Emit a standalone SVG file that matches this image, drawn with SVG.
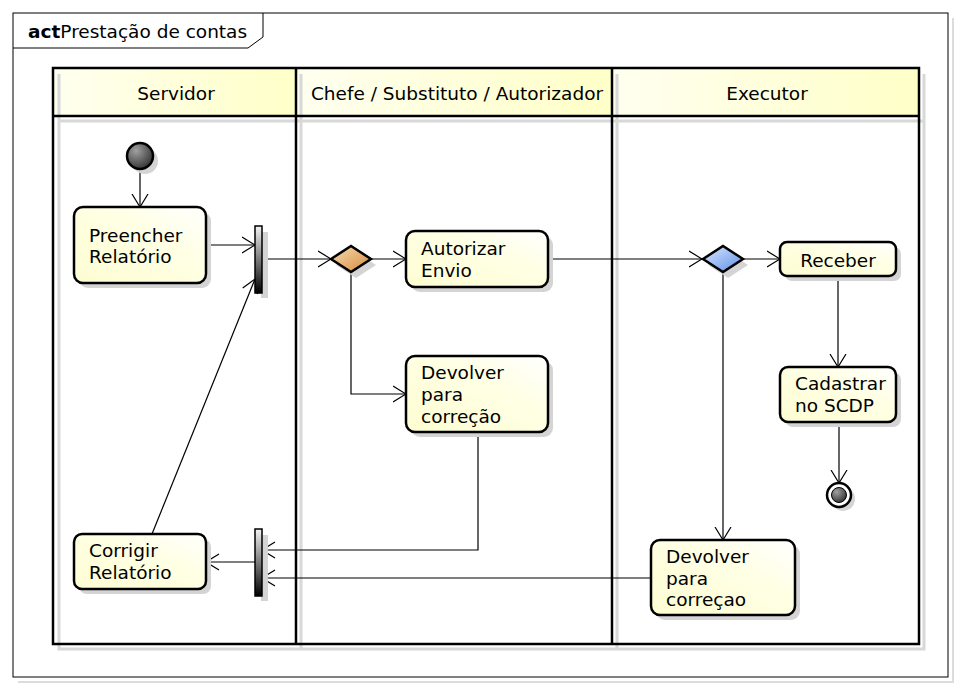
<svg xmlns="http://www.w3.org/2000/svg" width="962" height="690" viewBox="0 0 962 690">
<style>
text{font-family:"DejaVu Sans","Liberation Sans",sans-serif;font-size:18.5px;fill:#000}
.node{stroke:#000;stroke-width:2.5;fill:url(#ny)}
.sh{fill:#d4d4d4}
.ln{fill:none;stroke:#000;stroke-width:1.2}
.lane{fill:none;stroke:#000;stroke-width:2.5}
.lsh{fill:none;stroke:#d8d8d8;stroke-width:3}
.bar{fill:url(#bg);stroke:#000;stroke-width:1.5}
.hd{fill:url(#hy)}
</style>
<defs>
<linearGradient id="ny" x1="0" y1="1" x2="1" y2="0"><stop offset="0" stop-color="#fdfdd2"/><stop offset="0.6" stop-color="#ffffe4"/><stop offset="1" stop-color="#ffffff"/></linearGradient>
<linearGradient id="hy" x1="0" y1="0" x2="1" y2="0"><stop offset="0" stop-color="#fffff0"/><stop offset="1" stop-color="#ffffc8"/></linearGradient>
<linearGradient id="bg" x1="0" y1="0" x2="0" y2="1"><stop offset="0" stop-color="#f4f4f4"/><stop offset="1" stop-color="#000"/></linearGradient>
<linearGradient id="og" x1="0" y1="0" x2="1" y2="1"><stop offset="0" stop-color="#f8dcb4"/><stop offset="1" stop-color="#d48a3c"/></linearGradient>
<linearGradient id="bl" x1="0" y1="0" x2="1" y2="1"><stop offset="0" stop-color="#dde9ff"/><stop offset="1" stop-color="#5a8ee8"/></linearGradient>
<radialGradient id="ig" cx="0.35" cy="0.3" r="0.8"><stop offset="0" stop-color="#a0a0a0"/><stop offset="1" stop-color="#2a2a2a"/></radialGradient>
<marker id="ah" viewBox="0 0 14 18" refX="13.5" refY="9" markerWidth="14" markerHeight="18" markerUnits="userSpaceOnUse" orient="auto"><path d="M0.5,1 L13.5,9 L0.5,17" fill="none" stroke="#000" stroke-width="1.2"/></marker>
</defs>
<rect width="962" height="690" fill="#fff"/>
<g id="frame">
<path d="M953,18 V682 H18" fill="none" stroke="#dcdcdc" stroke-width="2"/>
<rect x="13" y="13" width="935" height="664" fill="none" stroke="#000" stroke-width="1"/>
<path d="M13,48 H248 L263,37 V13" fill="none" stroke="#000" stroke-width="1"/>
<text x="28" y="38"><tspan font-weight="bold">act</tspan>Prestação de contas</text>
</g>
<g id="lanes">
<rect class="hd" x="53" y="68" width="243" height="48"/>
<rect class="hd" x="296" y="68" width="316" height="48"/>
<rect class="hd" x="612" y="68" width="307" height="48"/>
<path class="lsh" d="M59,74 V649 H924 V74 M301,74 V649 M617,74 V649 M59,121 H924"/>
<rect class="lane" x="53" y="68" width="866" height="576"/>
<path class="lane" d="M53,116 H919 M296,68 V644 M612,68 V644"/>
<text x="176" y="100" text-anchor="middle">Servidor</text>
<text x="457" y="100" text-anchor="middle">Chefe / Substituto / Autorizador</text>
<text x="767" y="100" text-anchor="middle">Executor</text>
</g>
<g id="connectors">
<path class="ln" marker-end="url(#ah)" d="M140,169 V207"/>
<path class="ln" marker-end="url(#ah)" d="M206,245 H255"/>
<path class="ln" marker-end="url(#ah)" d="M262,259 H331"/>
<path class="ln" marker-end="url(#ah)" d="M371,259 H406"/>
<path class="ln" marker-end="url(#ah)" d="M351,272 V394 H406"/>
<path class="ln" marker-end="url(#ah)" d="M548,259 H702"/>
<path class="ln" marker-end="url(#ah)" d="M743,259 H780"/>
<path class="ln" marker-end="url(#ah)" d="M838,276 V367"/>
<path class="ln" marker-end="url(#ah)" d="M839,422 V483"/>
<path class="ln" marker-end="url(#ah)" d="M723,273 V540"/>
<path class="ln" marker-end="url(#ah)" d="M478,432 V550 H262"/>
<path class="ln" marker-end="url(#ah)" d="M651,578 H262"/>
<path class="ln" marker-end="url(#ah)" d="M255,562 H206"/>
<path class="ln" marker-end="url(#ah)" d="M152,534 L255,279"/>
</g>
<g id="initial">
<circle cx="145" cy="161" r="13" class="sh"/>
<circle cx="140" cy="156" r="13" fill="url(#ig)" stroke="#000" stroke-width="2.5"/>
</g>
<g id="preencher">
<rect class="sh" x="79" y="212" width="132" height="76" rx="9"/>
<rect class="node" x="74" y="207" width="132" height="76" rx="9"/>
<text x="89" y="242">Preencher</text>
<text x="89" y="263">Relatório</text>
</g>
<g id="fork1">
<rect class="sh" x="261" y="232" width="7" height="66"/>
<rect class="bar" x="255" y="226" width="7" height="67"/>
</g>
<g id="decisao1">
<path class="sh" d="M336,265 L356,252 L376,265 L356,278 Z"/>
<path d="M331,259 L351,246 L371,259 L351,272 Z" fill="url(#og)" stroke="#000" stroke-width="2.5"/>
</g>
<g id="autorizar">
<rect class="sh" x="411" y="236" width="142" height="56" rx="9"/>
<rect class="node" x="406" y="231" width="142" height="56" rx="9"/>
<text x="421" y="255">Autorizar</text>
<text x="421" y="277">Envio</text>
</g>
<g id="devolver1">
<rect class="sh" x="411" y="361" width="142" height="76" rx="9"/>
<rect class="node" x="406" y="356" width="142" height="76" rx="9"/>
<text x="421" y="379">Devolver</text>
<text x="421" y="401">para</text>
<text x="421" y="423">correção</text>
</g>
<g id="decisao2">
<path class="sh" d="M708,265 L728,252 L748,265 L728,278 Z"/>
<path d="M703,259 L723,246 L743,259 L723,272 Z" fill="url(#bl)" stroke="#000" stroke-width="2.5"/>
</g>
<g id="receber">
<rect class="sh" x="785" y="247" width="116" height="34" rx="7"/>
<rect class="node" x="780" y="242" width="116" height="34" rx="7"/>
<text x="838" y="267" text-anchor="middle">Receber</text>
</g>
<g id="cadastrar">
<rect class="sh" x="785" y="372" width="116" height="55" rx="8"/>
<rect class="node" x="780" y="367" width="116" height="55" rx="8"/>
<text x="795" y="390">Cadastrar</text>
<text x="795" y="412">no SCDP</text>
</g>
<g id="final">
<circle class="sh" cx="843" cy="499" r="12"/>
<circle cx="839" cy="495" r="12" fill="#fff" stroke="#000" stroke-width="2.5"/>
<circle cx="839" cy="495" r="7.5" fill="url(#ig)" stroke="#000" stroke-width="1"/>
</g>
<g id="devolver2">
<rect class="sh" x="656" y="545" width="144" height="75" rx="9"/>
<rect class="node" x="651" y="540" width="144" height="75" rx="9"/>
<text x="666" y="563">Devolver</text>
<text x="666" y="585">para</text>
<text x="666" y="606">correçao</text>
</g>
<g id="join">
<rect class="sh" x="261" y="535" width="7" height="66"/>
<rect class="bar" x="255" y="529" width="7" height="67"/>
</g>
<g id="corrigir">
<rect class="sh" x="79" y="539" width="132" height="55" rx="8"/>
<rect class="node" x="74" y="534" width="132" height="55" rx="8"/>
<text x="89" y="557">Corrigir</text>
<text x="89" y="579">Relatório</text>
</g>
</svg>
